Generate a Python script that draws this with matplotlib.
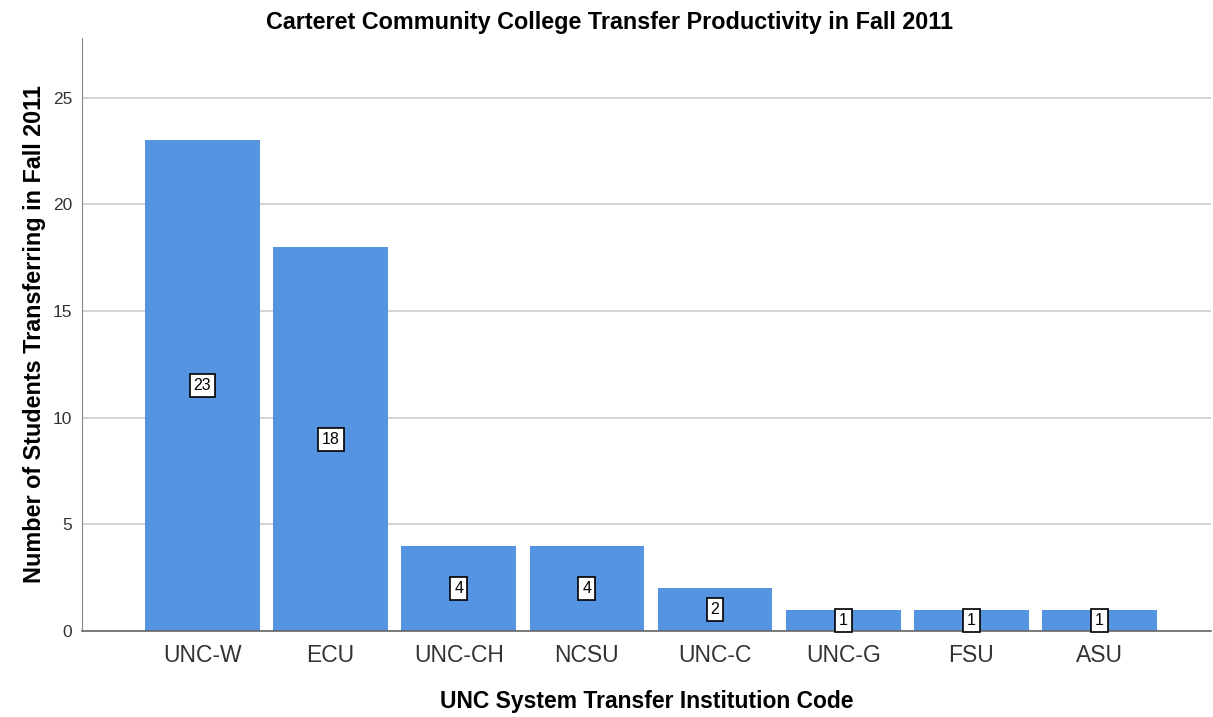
import matplotlib
matplotlib.use("Agg")
from matplotlib import pyplot as plt
import numpy as np

plt.rcParams['font.family'] = ['Liberation Sans', 'DejaVu Sans']

### - Data
institutions = ['UNC-W', 'ECU', 'UNC-CH', 'NCSU', 'UNC-C', 'UNC-G', 'FSU', 'ASU']
students = [23, 18, 4, 4, 2, 1, 1, 1]

fig = plt.figure(figsize=(12.13, 7.17), dpi=100)
ax = fig.add_axes([82/1213, 1 - 631/717, (1211-82)/1213, (631-38)/717])

x = np.arange(len(institutions))
ax.bar(x, students, width=0.895, color='#5594E1', zorder=2)

# value labels in white boxes at half bar height
for xi, v in zip(x, students):
    ax.text(xi, v/2, str(v), ha='center', va='center', fontsize=11.5, zorder=3,
            bbox=dict(boxstyle='square,pad=0.25', fc='white', ec='black', lw=1.2))

ax.set_xlim(-0.94, 7.87)
ax.set_ylim(0, 27.8)
ax.set_yticks([0, 5, 10, 15, 20, 25])
ax.set_xticks(x)
ax.set_xticklabels(institutions, fontsize=16.5, color='#333333')
ax.tick_params(axis='y', labelsize=12.5, length=0, pad=7, labelcolor='#333333')
ax.tick_params(axis='x', length=0, pad=9)
ax.yaxis.grid(True, color='#cccccc', lw=1.2, zorder=0)

for s in ['top', 'right']:
    ax.spines[s].set_visible(False)
ax.spines['left'].set_color('#888888')
ax.spines['bottom'].set_color('#666666')
ax.spines['bottom'].set_linewidth(1.2)

fig.text(610/1213, 1 - 22/717, 'Carteret Community College Transfer Productivity in Fall 2011',
         fontsize=16.8, fontweight='bold', ha='center', va='center')
ax.set_xlabel('UNC System Transfer Institution Code', fontsize=16.5, fontweight='bold', labelpad=17)
ax.set_ylabel('Number of Students Transferring in Fall 2011', fontsize=16.8, fontweight='bold', labelpad=5)

fig.savefig('out.png', dpi=100)
